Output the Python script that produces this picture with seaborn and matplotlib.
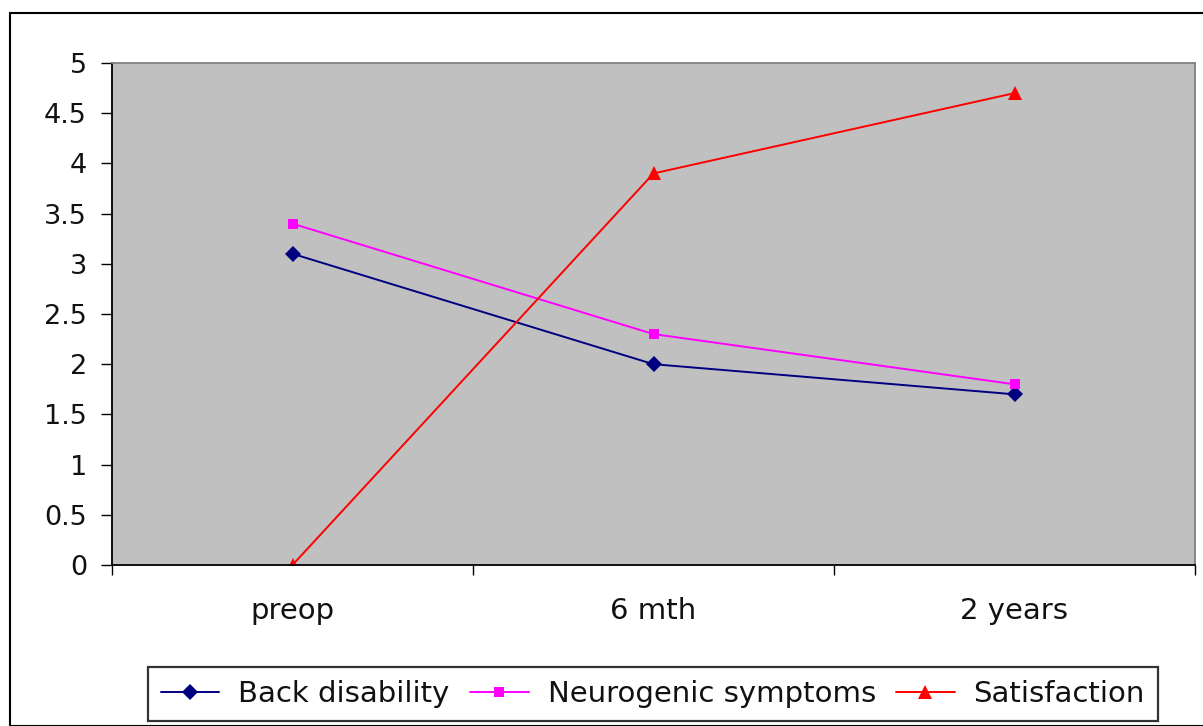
import matplotlib
matplotlib.use("Agg")
import matplotlib.pyplot as plt
import seaborn as sns
import pandas as pd
from matplotlib.patches import Rectangle

categories = ["preop", "6 mth", "2 years"]
back_disability = [3.1, 2.0, 1.7]
neurogenic = [3.4, 2.3, 1.8]
satisfaction = [0.0, 3.9, 4.7]
series_names = ["Back disability", "Neurogenic symptoms", "Satisfaction"]
y_ticks = [0, 0.5, 1, 1.5, 2, 2.5, 3, 3.5, 4, 4.5, 5]

sns.set_style("white")
plt.rcParams['font.family'] = ['DejaVu Sans']

rows = []
for name, vals in zip(series_names, [back_disability, neurogenic, satisfaction]):
    for i, v in enumerate(vals):
        rows.append({"x": i, "value": v, "series": name})
df = pd.DataFrame(rows)

fig = plt.figure(figsize=(12.03, 7.26), dpi=100)
fig.patch.set_facecolor("white")
# outer chart border
fig.add_artist(Rectangle((10/1203, 0.0), 1.2, 1 - 13/726, transform=fig.transFigure,
                         fill=False, edgecolor="black", linewidth=1.5))

ax = fig.add_axes([112/1203, 1 - 565/726, (1195 - 112)/1203, (565 - 63)/726])
ax.set_facecolor("#c0c0c0")

palette = {"Back disability": "#000080", "Neurogenic symptoms": "#ff00ff", "Satisfaction": "#ff0000"}
markers = {"Back disability": "D", "Neurogenic symptoms": "s", "Satisfaction": "^"}
sizes = {"Back disability": 8, "Neurogenic symptoms": 7, "Satisfaction": 10}

for name in series_names:
    sub = df[df.series == name]
    sns.lineplot(data=sub, x="x", y="value", ax=ax, color=palette[name], marker=markers[name],
                 markersize=sizes[name], markeredgewidth=0, linewidth=1.4, label=name)

ax.set_xlim(-0.5, 2.5)
ax.set_ylim(0, 5)
ax.set_yticks(y_ticks)
ax.set_yticklabels([f"{t:g}" for t in y_ticks], fontsize=19.5, color="#111111")
ax.set_xticks([-0.5, 0.5, 1.5, 2.5])
ax.set_xticklabels([])
ax.set_xticks([0, 1, 2], minor=True)
ax.set_xticklabels(categories, minor=True, fontsize=21, color="#111111")
ax.tick_params(axis="x", which="major", direction="out", length=7, width=1, color="black", bottom=True)
ax.tick_params(axis="x", which="minor", length=0, pad=23)
ax.tick_params(axis="y", direction="out", length=8, width=1, color="black", left=True, pad=10)
ax.set_xlabel("")
ax.set_ylabel("")

for s in ["left", "bottom"]:
    ax.spines[s].set_color("black")
    ax.spines[s].set_linewidth(1.3)
for s in ["top", "right"]:
    ax.spines[s].set_color("#808080")
    ax.spines[s].set_linewidth(1.3)

handles, labels = ax.get_legend_handles_labels()
leg = ax.legend(handles, labels, loc="center", bbox_to_anchor=(653/1203, 1 - 694/726),
                bbox_transform=fig.transFigure, ncol=3, fontsize=21, frameon=True, fancybox=False,
                edgecolor="black", handlelength=2.0, handletextpad=0.65, columnspacing=0.7,
                borderpad=0.45)
leg.get_frame().set_linewidth(1.6)
for t in leg.get_texts():
    t.set_color("#111111")

fig.savefig("out.png", dpi=100)
